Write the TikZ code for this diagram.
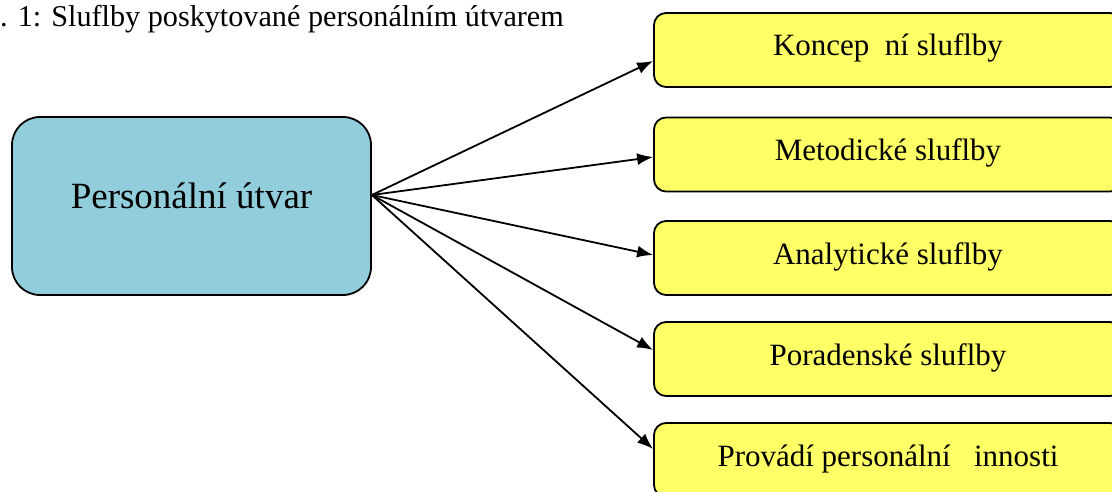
\documentclass[tikz,border=0pt]{standalone}
\usepackage{fontspec}
\setmainfont{Liberation Serif}
\usetikzlibrary{arrows.meta}
\definecolor{utvarblue}{HTML}{92CDDC}
\definecolor{sluzbayellow}{HTML}{FFFF66}
\tikzset{>={Latex[length=16pt,width=12pt]}}
\tikzset{utvarbox/.style={draw, line width=1.8pt, fill=utvarblue, rounded corners=28pt,
    minimum width=359pt, minimum height=178pt, inner sep=0pt}}
\tikzset{sluzbabox/.style={draw, line width=1.8pt, fill=sluzbayellow, rounded corners=12pt,
    minimum width=468pt, minimum height=74pt, inner sep=0pt}}
\tikzset{sluzbatext/.style={anchor=base, inner sep=0pt, font=\fontsize{31}{37}\selectfont}}

\begin{document}
\begin{tikzpicture}[x=1pt, y=-1pt]
      \clip (0,0) rectangle (1112,492);
      \node at (0,27) [anchor=base west, inner sep=0pt, font=\fontsize{30.2}{36}\selectfont] (popis)
        {. 1: Sluflby poskytované personálním útvarem};
      % zdroj
      \node at (191.5,206) [utvarbox] (utvar) {};
      \node at ([yshift=-2pt]utvar.center) [anchor=base, inner sep=0pt, font=\fontsize{37}{44}\selectfont]
        (utvartext) {Personální útvar};
      % sluzby
      \node at (888,50) [sluzbabox] (k1) {};
      \node at (888,154.5) [sluzbabox] (k2) {};
      \node at (888,258) [sluzbabox] (k3) {};
      \node at (888,359) [sluzbabox] (k4) {};
      \node at (888,460) [sluzbabox] (k5) {};
      \node at ([yshift=-6pt]k1.center) [sluzbatext] (t1) {Koncep\ \ ní sluflby};
      \node at ([yshift=-6pt]k2.center) [sluzbatext] (t2) {Metodické sluflby};
      \node at ([yshift=-6pt]k3.center) [sluzbatext] (t3) {Analytické sluflby};
      \node at ([yshift=-6pt]k4.center) [sluzbatext] (t4) {Poradenské sluflby};
      \node at ([yshift=-6pt]k5.center) [sluzbatext] (t5) {Provádí personální\ \ \ innosti};
      % sipky
      \coordinate (src) at ([yshift=11pt]utvar.east);
      \draw[->, line width=1.8pt] (src) -- ([yshift=-11pt]k1.west);
      \draw[->, line width=1.8pt] (src) -- ([yshift=-2.5pt]k2.west);
      \draw[->, line width=1.8pt] (src) -- ([yshift=3pt]k3.west);
      \draw[->, line width=1.8pt] (src) -- ([yshift=9pt]k4.west);
      \draw[->, line width=1.8pt] (src) -- ([yshift=11pt]k5.west);
\end{tikzpicture}
\end{document}
